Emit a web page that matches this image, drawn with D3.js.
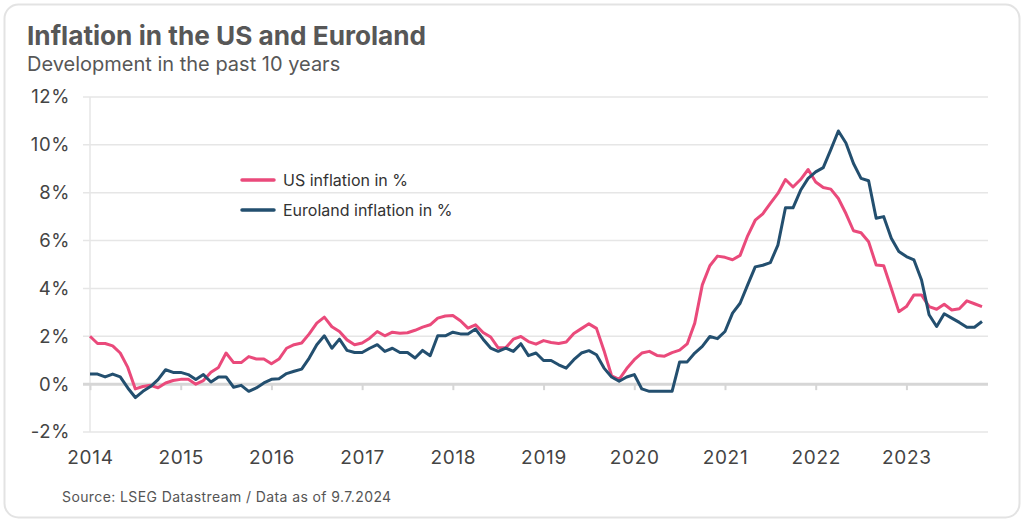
<!DOCTYPE html>
<html>
<head>
<meta charset="utf-8">
<script src="https://cdn.jsdelivr.net/npm/d3@7"></script>
<style>
  html, body { margin: 0; padding: 0; background: #fff; }
  svg { display: block; font-family: Inter, "Noto Sans", sans-serif; }
</style>
</head>
<body>
<svg id="chart" width="1024" height="522"></svg>
<script>
// monthly points, first one sits on the 2014 tick
const yearLabels = ["2014", "2015", "2016", "2017", "2018", "2019", "2020", "2021", "2022", "2023"];
const yTicks = [-2, 0, 2, 4, 6, 8, 10, 12];

const usInflation = [
  2.0, 1.7, 1.7, 1.6, 1.3, 0.7,
  -0.2, -0.1, -0.05, -0.15, 0.05, 0.15, 0.2, 0.2, 0.0, 0.15, 0.5, 0.7,
  1.3, 0.9, 0.9, 1.15, 1.05, 1.05, 0.85, 1.05, 1.5, 1.65, 1.72, 2.1,
  2.55, 2.8, 2.4, 2.2, 1.85, 1.65, 1.72, 1.92, 2.2, 2.02, 2.17, 2.13,
  2.15, 2.25, 2.38, 2.48, 2.76, 2.85, 2.87, 2.65, 2.34, 2.48, 2.16, 1.97,
  1.52, 1.52, 1.88, 1.99, 1.78, 1.67, 1.82, 1.74, 1.7, 1.76, 2.12, 2.32,
  2.52, 2.33, 1.4, 0.35, 0.2, 0.65, 1.02, 1.3, 1.37, 1.2, 1.17, 1.32,
  1.42, 1.68, 2.55, 4.15, 4.95, 5.35, 5.3, 5.2, 5.38, 6.2, 6.85, 7.12,
  7.55, 7.97, 8.55, 8.24, 8.55, 8.97, 8.45, 8.22, 8.15, 7.76, 7.13, 6.41,
  6.33, 5.95, 4.98, 4.95, 4.0, 3.03, 3.24, 3.73, 3.73, 3.24, 3.13, 3.34,
  3.1, 3.15, 3.48, 3.36, 3.24
];

const euroInflation = [
  0.42, 0.42, 0.3, 0.42, 0.3, -0.16,
  -0.56, -0.3, -0.1, 0.19, 0.6, 0.49, 0.49, 0.4, 0.19, 0.4, 0.09, 0.3,
  0.3, -0.13, -0.05, -0.3, -0.16, 0.05, 0.2, 0.23, 0.44, 0.54, 0.63, 1.09,
  1.65, 2.02, 1.5, 1.88, 1.41, 1.32, 1.32, 1.5, 1.65, 1.37, 1.5, 1.32,
  1.32, 1.09, 1.41, 1.19, 2.02, 2.02, 2.17, 2.1, 2.1, 2.3, 1.88, 1.51,
  1.37, 1.51, 1.37, 1.69, 1.19, 1.3, 0.99, 0.99, 0.81, 0.67, 1.02, 1.3,
  1.4, 1.23, 0.67, 0.3, 0.12, 0.3, 0.4, -0.2, -0.3, -0.3, -0.3, -0.3,
  0.93, 0.93, 1.3, 1.58, 1.99, 1.9, 2.2, 2.97, 3.38, 4.15, 4.9, 4.97,
  5.08, 5.81, 7.37, 7.37, 8.1, 8.6, 8.87, 9.05, 9.8, 10.58, 10.08, 9.22,
  8.6, 8.5, 6.93, 7.0, 6.1, 5.54, 5.33, 5.19, 4.35, 2.9, 2.41, 2.94,
  2.76, 2.58, 2.38, 2.38, 2.62
];

const series = [
  { name: "US inflation in %", values: usInflation, color: "#ea4a7b" },
  { name: "Euroland inflation in %", values: euroInflation, color: "#234f6f" }
];

const width = 1024, height = 522;
const margin = { top: 97, right: 36, bottom: 90, left: 90 };

const svg = d3.select("#chart");

// card
svg.append("rect")
  .attr("x", 4.5).attr("y", 4.5)
  .attr("width", width - 9).attr("height", height - 9)
  .attr("rx", 14)
  .attr("fill", "#fff")
  .attr("stroke", "#e3e3e3")
  .attr("stroke-width", 2);

svg.append("text")
  .attr("x", 27).attr("y", 45)
  .attr("fill", "#575757")
  .attr("font-size", 26.2)
  .attr("font-weight", 700)
  .text("Inflation in the US and Euroland");

svg.append("text")
  .attr("x", 27).attr("y", 71)
  .attr("fill", "#575757")
  .attr("font-size", 20)
  .text("Development in the past 10 years");

const n = usInflation.length;
const x = d3.scaleLinear().domain([0, n - 1]).range([margin.left, 982]);
const y = d3.scaleLinear().domain([-2, 12]).range([432, 97]);

// gridlines
svg.append("g")
  .selectAll("line")
  .data(yTicks.filter(d => d !== 0))
  .join("line")
  .attr("x1", 83).attr("x2", 988)
  .attr("y1", d => y(d)).attr("y2", d => y(d))
  .attr("stroke", "#e6e6e6")
  .attr("stroke-width", 1.5);

// y axis labels
const yAxis = d3.axisLeft(y)
  .tickValues(yTicks)
  .tickFormat(d => d + "%")
  .tickSize(0)
  .tickPadding(20);

svg.append("g")
  .attr("transform", `translate(${margin.left},0)`)
  .call(yAxis)
  .call(g => g.select(".domain").remove())
  .call(g => g.selectAll("text")
    .attr("fill", "#444")
    .attr("font-size", 18.5)
    .attr("letter-spacing", 0.6)
    .attr("font-family", "Inter, sans-serif"));

// left vertical line
svg.append("line")
  .attr("x1", margin.left).attr("x2", margin.left)
  .attr("y1", y(12)).attr("y2", y(-2))
  .attr("stroke", "#e6e6e6")
  .attr("stroke-width", 1.5);

// x axis on the zero line
const xAxis = d3.axisBottom(x)
  .tickValues(yearLabels.map((d, i) => i * 12))
  .tickFormat((d, i) => yearLabels[i])
  .tickSize(6)
  .tickPadding(60);

svg.append("g")
  .attr("transform", `translate(0,${y(0)})`)
  .call(xAxis)
  .call(g => g.select(".domain").remove())
  .call(g => g.selectAll(".tick line")
    .attr("stroke", "#d6d6d6")
    .attr("stroke-width", 2))
  .call(g => g.selectAll("text")
    .attr("fill", "#444")
    .attr("font-size", 19)
    .attr("letter-spacing", 0.7)
    .attr("font-family", "Inter, sans-serif"));

svg.append("line")
  .attr("x1", 83).attr("x2", 988)
  .attr("y1", y(0)).attr("y2", y(0))
  .attr("stroke", "#d6d6d6")
  .attr("stroke-width", 3);

// lines
const line = d3.line()
  .x((d, i) => x(i))
  .y(d => y(d));

svg.append("g")
  .selectAll("path")
  .data(series)
  .join("path")
  .attr("d", d => line(d.values))
  .attr("fill", "none")
  .attr("stroke", d => d.color)
  .attr("stroke-width", 3)
  .attr("stroke-linejoin", "round");

// legend
const legend = svg.append("g").attr("transform", "translate(242,180)");
const item = legend.selectAll("g")
  .data(series)
  .join("g")
  .attr("transform", (d, i) => `translate(0,${i * 30})`);

item.append("line")
  .attr("x1", 0).attr("x2", 32)
  .attr("stroke", d => d.color)
  .attr("stroke-width", 3.5)
  .attr("stroke-linecap", "round");

item.append("text")
  .attr("x", 41).attr("y", 6)
  .attr("fill", "#333")
  .attr("font-size", 16)
  .text(d => d.name);

svg.append("text")
  .attr("x", 62).attr("y", 502)
  .attr("fill", "#555")
  .attr("font-size", 14)
  .attr("letter-spacing", 0.4)
  .text("Source: LSEG Datastream / Data as of 9.7.2024");
</script>
</body>
</html>
